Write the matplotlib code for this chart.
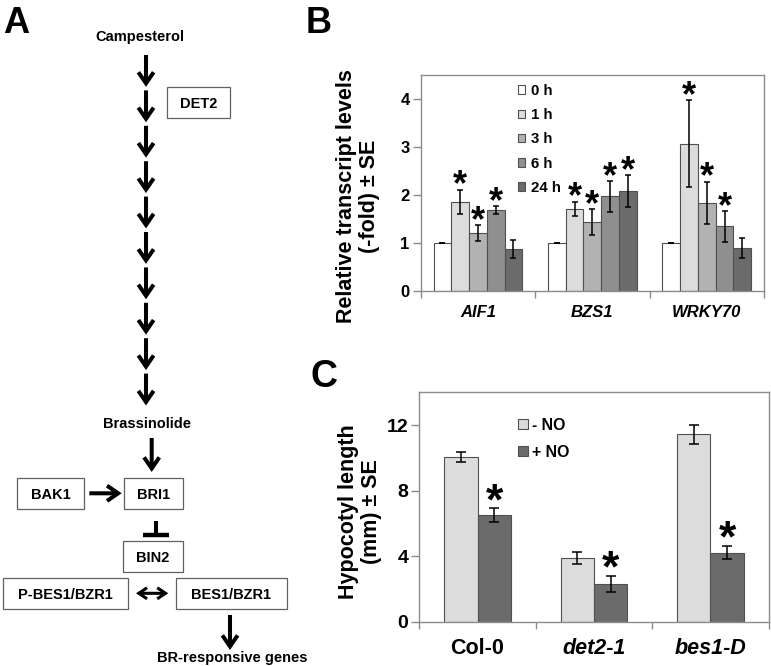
import numpy as np
import matplotlib
matplotlib.use('Agg')
import matplotlib.pyplot as plt
from matplotlib.patches import Rectangle, FancyArrowPatch

plt.rcParams['font.family'] = ['Liberation Sans', 'DejaVu Sans']
plt.rcParams['font.weight'] = 'bold'

# Panel B - transcript levels after treatment
genes = ['AIF1', 'BZS1', 'WRKY70']
times = ['0 h', '1 h', '3 h', '6 h', '24 h']
levels = [[1.00, 1.00, 1.00],
          [1.86, 1.71, 3.07],
          [1.21, 1.44, 1.84],
          [1.69, 1.97, 1.35],
          [0.88, 2.08, 0.90]]
levels_se = [[0.00, 0.00, 0.00],
             [0.25, 0.15, 0.90],
             [0.16, 0.27, 0.44],
             [0.08, 0.32, 0.32],
             [0.19, 0.34, 0.21]]
levels_sig = [[False, False, False],
              [True, True, True],
              [True, True, True],
              [True, True, True],
              [False, True, False]]

# Panel C - hypocotyl length
lines = ['Col-0', 'det2-1', 'bes1-D']
treatments = ['- NO', '+ NO']
hypo = [[10.05, 3.88, 11.43],
        [6.50, 2.30, 4.22]]
hypo_se = [[0.30, 0.35, 0.60],
           [0.41, 0.50, 0.42]]
hypo_sig = [[False, False, False],
            [True, True, True]]

# Panel A - pathway
n_steps = 10
boxes = {'DET2': (166.7, 87.3, 230, 118.3),
         'BAK1': (17.3, 478, 84, 509),
         'BRI1': (124.3, 478, 183.3, 509),
         'BIN2': (123.3, 541, 182.7, 572.3),
         'P-BES1/BZR1': (2.7, 578.3, 127.7, 609.3),
         'BES1/BZR1': (176, 578.3, 286.7, 609.3)}

fig = plt.figure(figsize=(7.71, 6.66), dpi=100)

# overlay in pixel coordinates for the diagram and panel letters
ov = fig.add_axes([0, 0, 1, 1])
ov.set_xlim(0, 771)
ov.set_ylim(666, 0)
ov.axis('off')


def arrow(x0, y0, x1, y1, style='->', lw=2.9, hl=8, hw=5.5):
    a = FancyArrowPatch((x0, y0), (x1, y1),
                        arrowstyle='%s,head_length=%s,head_width=%s' % (style, hl, hw),
                        mutation_scale=1, lw=lw, color='black',
                        shrinkA=0, shrinkB=0, joinstyle='miter', capstyle='butt')
    ov.add_patch(a)


def box(label, x0, y0, x1, y1):
    ov.add_patch(Rectangle((x0, y0), x1 - x0, y1 - y0, fill=False,
                           ec='#606060', lw=0.9))
    ov.text((x0 + x1) / 2, (y0 + y1) / 2 + 5.2, label, ha='center',
            va='baseline', fontsize=10.5, fontweight='bold')


ov.text(3, 33, 'A', fontsize=26, fontweight='bold', va='baseline')
ov.text(306, 33, 'B', fontsize=26, fontweight='bold', va='baseline')
ov.text(310, 387, 'C', fontsize=27, fontweight='bold', va='baseline')

ov.text(140, 40.5, 'Campesterol', ha='center', va='baseline', fontsize=10.5)
step = (409 - 55) / n_steps
for k in range(n_steps):
    y0 = 55 + k * step
    arrow(146, y0, 146, y0 + step - 3.5)
ov.text(146.7, 428, 'Brassinolide', ha='center', va='baseline', fontsize=10.5)
arrow(151.7, 438, 151.7, 472)

for name, (x0, y0, x1, y1) in boxes.items():
    box(name, x0, y0, x1, y1)

arrow(89.3, 493.3, 121.7, 493.3)
ov.plot([156, 156], [520.7, 535], color='black', lw=2.9, solid_capstyle='butt')
ov.plot([142.7, 169.3], [535, 535], color='black', lw=3.2, solid_capstyle='butt')
arrow(136, 593.3, 168.3, 593.3, style='<->', lw=2.2, hl=6, hw=4)
arrow(230, 615, 230, 650)
ov.text(232.3, 662, 'BR-responsive genes', ha='center', va='baseline', fontsize=10.5)

grey = '#8c8c8c'


def style_axes(ax, ysize, xsize, xpad):
    for s in ax.spines.values():
        s.set_color(grey)
        s.set_linewidth(1)
    ax.tick_params(axis='y', direction='out', length=6, width=1, color=grey,
                   pad=2, labelsize=ysize)
    ax.tick_params(axis='x', which='major', length=0, pad=xpad, labelsize=xsize)
    ax.tick_params(axis='x', which='minor', direction='out', length=5,
                   width=1, color=grey)
    ax.set_xticks([-0.5, 0.5, 1.5, 2.5], minor=True)
    ax.set_xlim(-0.5, 2.5)


# ---- Panel B
axB = fig.add_axes([420.7 / 771, 1 - 291 / 666, 343.3 / 771, 216 / 666])
b_colors = ['#ffffff', '#dcdcdc', '#b2b2b2', '#8f8f8f', '#6b6b6b']
x = np.arange(len(genes))
w = 0.155
for i, t in enumerate(times):
    pos = x + (i - 2) * w
    axB.bar(pos, levels[i], w, color=b_colors[i], edgecolor='#505050',
            lw=0.8, label=t, zorder=2)
    axB.errorbar(pos, levels[i], yerr=levels_se[i], fmt='none', ecolor='black',
                 elinewidth=1.1, capsize=2.4, capthick=1.1, zorder=3)
    for p, v, e, s in zip(pos, levels[i], levels_se[i], levels_sig[i]):
        if s:
            axB.annotate('*', (p, v + e), xytext=(0, -4.2),
                         textcoords='offset points', ha='center',
                         va='baseline', fontsize=26, fontweight='bold')
axB.set_ylim(0, 4.5)
axB.set_yticks([0, 1, 2, 3, 4])
axB.set_xticks(x)
axB.set_xticklabels(genes, style='italic')
style_axes(axB, 12, 12, 10)
axB.set_ylabel('Relative transcript levels\n(-fold) ± SE', fontsize=15.5,
               fontweight='bold', linespacing=1.15)
axB.yaxis.set_label_coords(-0.1186, 0.44)
axB.legend(loc='upper left', bbox_to_anchor=(0.2834, 0.958), frameon=False,
           prop={'size': 10.8, 'weight': 'bold'}, handlelength=0.5,
           handleheight=0.5, handletextpad=0.35, labelspacing=0.68,
           borderpad=0, borderaxespad=0)

# ---- Panel C
axC = fig.add_axes([419.3 / 771, 1 - 621.7 / 666, 349.4 / 771, 229.4 / 666])
c_colors = ['#dcdcdc', '#6b6b6b']
wc = 0.286
for i, t in enumerate(treatments):
    pos = x + (i - 0.5) * wc
    axC.bar(pos, hypo[i], wc, color=c_colors[i], edgecolor='#505050',
            lw=0.8, label=t, zorder=2)
    axC.errorbar(pos, hypo[i], yerr=hypo_se[i], fmt='none', ecolor='black',
                 elinewidth=1.1, capsize=3.6, capthick=1.1, zorder=3)
    for p, v, e, s in zip(pos, hypo[i], hypo_se[i], hypo_sig[i]):
        if s:
            axC.annotate('*', (p, v + e), xytext=(0, -4.0),
                         textcoords='offset points', ha='center',
                         va='baseline', fontsize=32, fontweight='bold')
axC.set_ylim(0, 14)
axC.set_yticks([0, 4, 8, 12])
axC.set_xticks(x)
axC.set_xticklabels(lines)
for lbl in axC.get_xticklabels()[1:]:
    lbl.set_style('italic')
style_axes(axC, 14, 15.5, 12)
axC.set_ylabel('Hypocotyl length\n(mm) ± SE', fontsize=15.5,
               fontweight='bold', linespacing=1.15)
axC.yaxis.set_label_coords(-0.107, 0.48)
axC.legend(loc='upper left', bbox_to_anchor=(0.2825, 0.888), frameon=False,
           prop={'size': 11.4, 'weight': 'bold'}, handlelength=0.6,
           handleheight=0.6, handletextpad=0.3, labelspacing=0.75,
           borderpad=0, borderaxespad=0)

fig.savefig('out.png', dpi=100)
